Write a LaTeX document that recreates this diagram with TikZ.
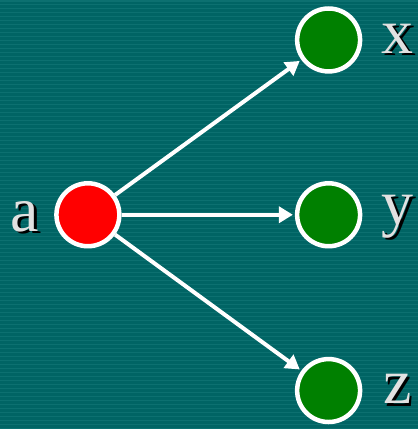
\documentclass[tikz,border=0pt]{standalone}
\usepackage{fontspec}
\setmainfont{Liberation Serif}
\usetikzlibrary{arrows.meta}

\definecolor{slideteal}{RGB}{0,100,100}
\definecolor{slidestripe}{RGB}{12,112,112}
\definecolor{labelgray}{RGB}{225,225,225}
\definecolor{dotred}{RGB}{255,0,0}
\definecolor{dotgreen}{RGB}{0,128,0}

% letter with a dark drop shadow behind it
\newcommand{\dropshadowed}[1]{%
    \makebox[0pt][l]{\hspace{2.5pt}\raisebox{-2.5pt}{\textcolor{black}{#1}}}#1}

\begin{document}
\begin{tikzpicture}[x=1pt, y=-1pt, line width=4.5pt,
    vertex/.style={circle, draw=white, minimum size=63pt, inner sep=0pt},
    labeltext/.style={text=labelgray, font=\fontsize{64}{64}\selectfont},
    edge/.style={draw=white, line width=4pt, shorten >=2pt,
        -{Triangle[length=14pt, width=16pt]}}]
    % draw striped slide background
    \fill[slideteal] (0, 0) rectangle (418, 429);
    \foreach \s in {0, 4, ..., 428}
        \fill[slidestripe] (0, \s) rectangle (418, \s + 1.5);
    \useasboundingbox (0, 0) rectangle (418, 429);

    % draw vertices
    \node[vertex, fill=dotred]   (a) at ( 88, 215) {};
    \node[vertex, fill=dotgreen] (x) at (329,  40) {};
    \node[vertex, fill=dotgreen] (y) at (329, 215) {};
    \node[vertex, fill=dotgreen] (z) at (329, 391) {};

    % draw edges
    \foreach \t in {x, y, z}
        \draw[edge] (a) -- (\t);

    % draw shadowed labels
    \foreach \n/\lx/\ly in {a/25/218, x/398/40, y/398/218, z/398/391}
        \node[labeltext] (label-\n) at (\lx, \ly) {\dropshadowed{\n}};
\end{tikzpicture}
\end{document}
